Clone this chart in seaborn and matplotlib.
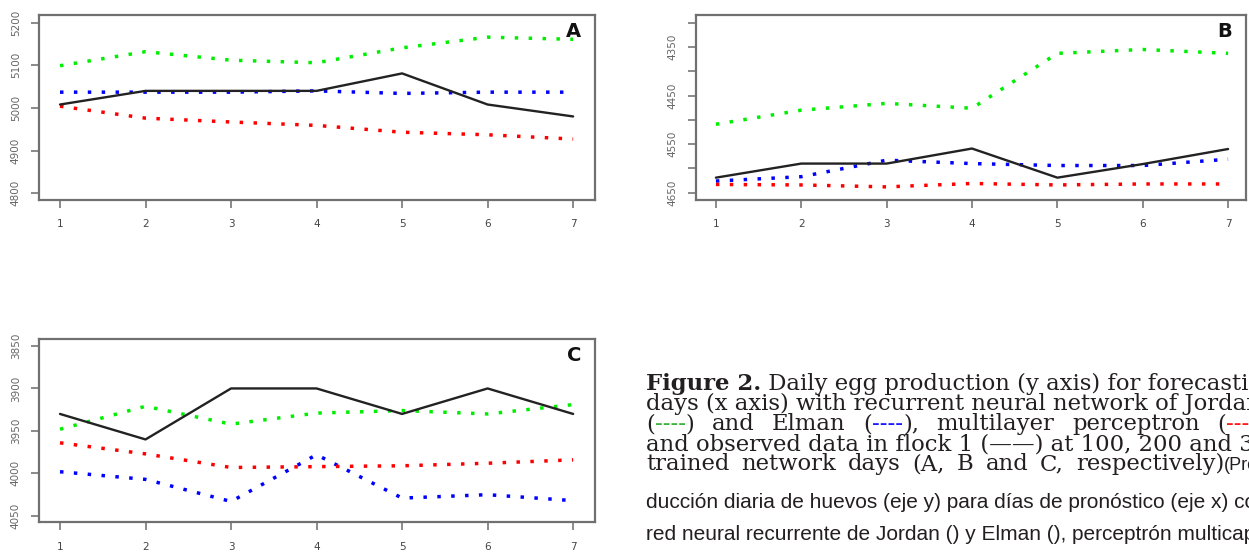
import matplotlib
matplotlib.use("Agg")
import matplotlib.pyplot as plt
import seaborn as sns

# forecasting days
days = [1, 2, 3, 4, 5, 6, 7]

# A - 100 trained network days
a_observed = [5008, 5040, 5040, 5040, 5081, 5008, 4980]
a_jordan = [5099, 5132, 5112, 5106, 5141, 5166, 5161]
a_elman = [5037, 5037, 5037, 5040, 5034, 5037, 5037]
a_mlp = [5004, 4976, 4967, 4959, 4943, 4937, 4927]
a_yticks = [4800, 4900, 5000, 5100, 5200]

# B - 200 trained network days
b_observed = [4619, 4590, 4590, 4559, 4619, 4591, 4560]
b_jordan = [4509, 4480, 4466, 4476, 4363, 4355, 4363]
b_elman = [4626, 4617, 4583, 4590, 4594, 4594, 4581]
b_mlp = [4633, 4634, 4638, 4631, 4634, 4632, 4632]
b_yticks = [4300, 4350, 4400, 4450, 4500, 4550, 4600, 4650]
b_ylabels = ["", "4350", "", "4450", "", "4550", "", "4650"]

# C - 300 trained network days
c_observed = [3930, 3960, 3900, 3900, 3930, 3900, 3930]
c_jordan = [3948, 3921, 3942, 3929, 3926, 3930, 3919]
c_elman = [3998, 4007, 4033, 3978, 4029, 4025, 4032]
c_mlp = [3964, 3977, 3993, 3992, 3991, 3988, 3984]
c_yticks = [3850, 3900, 3950, 4000, 4050]

sns.set_style("white")

fig = plt.figure(figsize=(12.49, 5.52), dpi=100)
ax_a = fig.add_axes([0.0312, 0.6377, 0.4452, 0.3351])
ax_b = fig.add_axes([0.5572, 0.6377, 0.4404, 0.3351])
ax_c = fig.add_axes([0.0312, 0.0538, 0.4452, 0.3321])

dots = (0, (1, 3))
panels = [
    (ax_a, a_observed, a_jordan, a_elman, a_mlp, "A", (0.754, 7.256), (4784, 5218),
     a_yticks, [str(v) for v in a_yticks]),
    (ax_b, b_observed, b_jordan, b_elman, b_mlp, "B", (0.766, 7.21), (4665, 4284),
     b_yticks, b_ylabels),
    (ax_c, c_observed, c_jordan, c_elman, c_mlp, "C", (0.754, 7.256), (4057.5, 3841.8),
     c_yticks, [str(v) for v in c_yticks]),
]

for ax, obs, jor, elm, mlp, letter, xlim, ylim, yt, ylab in panels:
    sns.lineplot(x=days, y=jor, color="#00ee00", linestyle=dots, linewidth=2.5, ax=ax)
    sns.lineplot(x=days, y=elm, color="#0000ff", linestyle=dots, linewidth=2.5, ax=ax)
    sns.lineplot(x=days, y=mlp, color="#ff0000", linestyle=dots, linewidth=2.5, ax=ax)
    sns.lineplot(x=days, y=obs, color="#222222", linewidth=1.7, ax=ax)
    ax.set_xlim(*xlim)
    ax.set_ylim(*ylim)
    ax.set_xticks(days)
    ax.set_xticklabels([str(d) for d in days], fontsize=7.5, color="#444444")
    ax.set_yticks(yt)
    ax.set_yticklabels(ylab, fontsize=7.5, color="#666666", rotation=90, va="center")
    ax.tick_params(axis="both", direction="out", length=6, width=1.2, color="#777777",
                   left=True, bottom=True)
    ax.tick_params(axis="y", pad=7)
    ax.tick_params(axis="x", pad=8)
    for sp in ax.spines.values():
        sp.set_visible(True)
        sp.set_color("#707070")
        sp.set_linewidth(1.6)
    ax.text(0.975, 0.91, letter, transform=ax.transAxes, ha="right", va="center",
            fontsize=14, fontweight="bold", color="#111111")

# caption, cut off at the right edge like the source
renderer = fig.canvas.get_renderer()
W, H = fig.bbox.width, fig.bbox.height
serif = "DejaVu Serif"
sans = "Liberation Sans"
ink = "#231f20"
fs = 16.4
fs_sans = 15


def place(x_px, y_px, pieces):
    # draws pieces one after the other, returns the end x in pixels
    x = x_px
    for txt, color, family, size, weight in pieces:
        t = fig.text(x / W, 1 - y_px / H, txt, color=color, family=family, fontsize=size,
                     fontweight=weight, va="baseline", ha="left")
        x += t.get_window_extent(renderer).width
    return x


def measure(pieces):
    w = 0
    for txt, color, family, size, weight in pieces:
        t = fig.text(0, 0, txt, family=family, fontsize=size, fontweight=weight)
        w += t.get_window_extent(renderer).width
        t.remove()
    return w


def justify(x_px, y_px, words, last_start):
    # spread the words so that the last one starts at last_start
    widths = [measure(w) for w in words[:-1]]
    gap = (last_start - x_px - sum(widths)) / (len(words) - 1)
    x = x_px
    for w, wd in zip(words[:-1], widths):
        place(x, y_px, w)
        x += wd + gap
    place(last_start, y_px, words[-1])


def s(txt, color=ink, family=serif, size=fs, weight="normal"):
    return (txt, color, family, size, weight)


x0 = 646
place(x0, 390, [s("Figure 2.", weight="bold"), s(" Daily egg production (y axis) for forecasting")])
place(x0, 410, [s("days (x axis) with recurrent neural network of Jordan")])
justify(x0, 430, [[s("("), s("----", "#3cb33c"), s(")")], [s("and")], [s("Elman")],
                  [s("("), s("----", "#1a1aff"), s("),")], [s("multilayer")], [s("perceptron")],
                  [s("("), s("----", "#ff1a1a"), s(")")]], 1217)
place(x0, 450, [s("and observed data in flock 1 (\u2014\u2014) at 100, 200 and 300")])
justify(x0, 470, [[s("trained")], [s("network")], [s("days")], [s("(A,")], [s("B")], [s("and")],
                  [s("C,")], [s("respectively)"), s("(Pro-", family=sans, size=fs_sans - 2)]], 1076)
place(x0, 508, [s("ducción diaria de huevos (eje y) para días de pronóstico (eje x) con",
                  family=sans, size=fs_sans)])
place(x0, 540, [s("red neural recurrente de Jordan () y Elman (), perceptrón multicapa",
                  family=sans, size=fs_sans)])

fig.savefig("out.png", dpi=100)
